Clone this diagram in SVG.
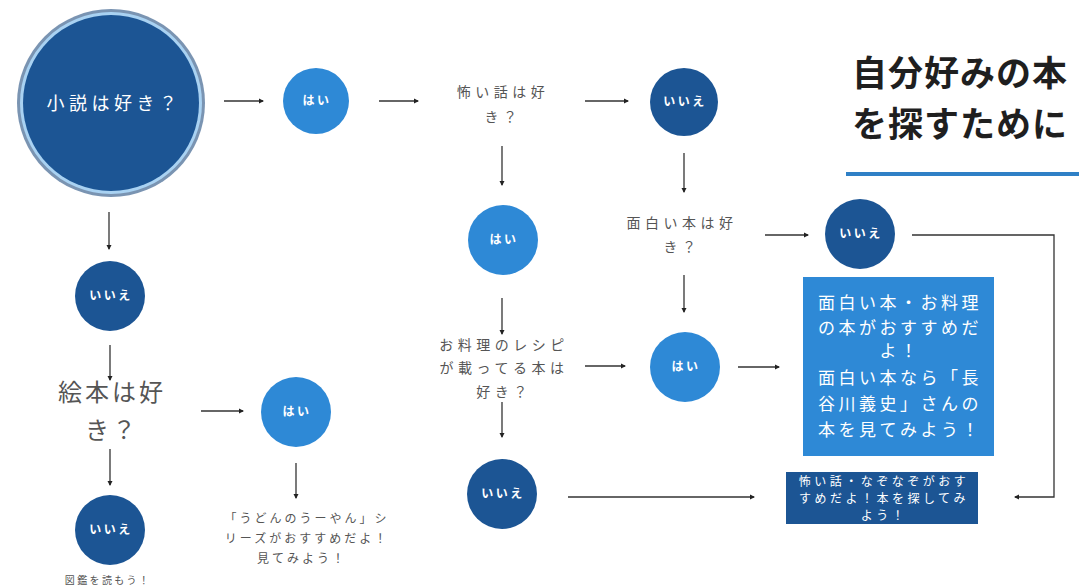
<svg xmlns="http://www.w3.org/2000/svg" width="1079" height="585" viewBox="0 0 1079 585">
<defs>
<style>
text{font-family:"Noto Sans CJK JP","Noto Sans",sans-serif;text-anchor:middle;}
.dark{fill:#1c5594;}
.mid{fill:#2e89d6;}
.lbl{fill:#ffffff;font-size:12px;letter-spacing:2.5px;font-weight:bold;}
.q{fill:#555555;font-size:14px;letter-spacing:4.5px;}
.ca{stroke:#333333;stroke-width:1.3;fill:none;marker-end:url(#ah);}
.box{fill:#ffffff;font-size:17px;letter-spacing:3.5px;}
.box2{fill:#ffffff;font-size:12px;letter-spacing:3.5px;}
.udon{fill:#555555;font-size:12px;letter-spacing:3px;}
.ttl{text-anchor:start;font-size:35px;font-weight:bold;fill:#1f1f1f;letter-spacing:1px;}
</style>
<marker id="ah" markerWidth="6" markerHeight="6" refX="4" refY="3" orient="auto" markerUnits="userSpaceOnUse">
<path d="M0,0.5 L5,3 L0,5.5 z" fill="#222222"/>
</marker>
</defs>
<rect width="1079" height="585" fill="#ffffff"/>

<g id="title">
<text x="852" y="86" class="ttl">自分好みの本</text>
<text x="852" y="137" class="ttl">を探すために</text>
<line x1="846" y1="174" x2="1079" y2="174" stroke="#2f80c6" stroke-width="4"/>
</g>

<g id="q-novel">
<circle cx="111" cy="103" r="94" fill="#7a94b2"/>
<circle cx="111" cy="103" r="91" fill="#a9d2f2"/>
<circle cx="111" cy="103" r="88" class="dark"/>
<text x="114" y="110" style="fill:#ffffff;font-size:18px;letter-spacing:4.5px">小説は好き？</text>
</g>

<g id="yes1"><circle cx="316" cy="101" r="33" class="mid"/><text x="317" y="105" class="lbl">はい</text></g>
<g id="q-scary"><text x="503" y="97" class="q">怖い話は好</text><text x="503" y="122" class="q">き？</text></g>
<g id="no1"><circle cx="684" cy="102" r="34" class="dark"/><text x="685" y="106" class="lbl">いいえ</text></g>
<g id="q-funny"><text x="682" y="228" class="q">面白い本は好</text><text x="682" y="252" class="q">き？</text></g>
<g id="no2"><circle cx="860" cy="234" r="35" class="dark"/><text x="861" y="238" class="lbl">いいえ</text></g>
<g id="yes3"><circle cx="685" cy="367" r="35" class="mid"/><text x="686" y="371" class="lbl">はい</text></g>
<g id="yes2"><circle cx="503" cy="240" r="35" class="mid"/><text x="504" y="244" class="lbl">はい</text></g>
<g id="q-cook"><text x="504" y="350" class="q">お料理のレシピ</text><text x="504" y="373" class="q">が載ってる本は</text><text x="504" y="397" class="q">好き？</text></g>
<g id="no3"><circle cx="502" cy="494" r="35" class="dark"/><text x="503" y="498" class="lbl">いいえ</text></g>

<g id="rec-funny">
<rect x="803" y="277" width="191" height="179" class="mid"/>
<text x="900" y="309" class="box">面白い本・お料理</text>
<text x="900" y="334" class="box">の本がおすすめだ</text>
<text x="900" y="357" class="box">よ！</text>
<text x="900" y="384" class="box">面白い本なら「長</text>
<text x="900" y="410" class="box">谷川義史」さんの</text>
<text x="900" y="436" class="box">本を見てみよう！</text>
</g>
<g id="rec-scary">
<rect x="786" y="472" width="192" height="52" class="dark"/>
<text x="884" y="486" class="box2">怖い話・なぞなぞがおす</text>
<text x="884" y="503" class="box2">すめだよ！本を探してみ</text>
<text x="884" y="520" class="box2">よう！</text>
</g>

<g id="no0"><circle cx="110" cy="296" r="35" class="dark"/><text x="111" y="300" class="lbl">いいえ</text></g>
<g id="q-picture"><text x="112" y="401" style="fill:#555555;font-size:24px;letter-spacing:3px">絵本は好</text><text x="112" y="439" style="fill:#555555;font-size:24px;letter-spacing:3px">き？</text></g>
<g id="yes4"><circle cx="296" cy="412" r="35" class="mid"/><text x="297" y="416" class="lbl">はい</text></g>
<g id="rec-udon"><text x="307" y="523" class="udon">「うどんのうーやん」シ</text><text x="307" y="543" class="udon">リーズがおすすめだよ！</text><text x="302" y="563" class="udon">見てみよう！</text></g>
<g id="no4"><circle cx="110" cy="530" r="35" class="dark"/><text x="111" y="534" class="lbl">いいえ</text></g>
<g id="rec-zukan"><text x="108" y="584" style="fill:#555555;font-size:10px;letter-spacing:2.4px">図鑑を読もう！</text></g>

<g id="connectors">
<line x1="224" y1="101" x2="263" y2="101" class="ca"/>
<line x1="379" y1="101" x2="418" y2="101" class="ca"/>
<line x1="585" y1="101" x2="628" y2="101" class="ca"/>
<line x1="684" y1="153" x2="684" y2="192" class="ca"/>
<line x1="765" y1="235" x2="808" y2="235" class="ca"/>
<line x1="684" y1="275" x2="684" y2="312" class="ca"/>
<line x1="738" y1="367" x2="779" y2="367" class="ca"/>
<line x1="502" y1="146" x2="502" y2="185" class="ca"/>
<line x1="502" y1="298" x2="502" y2="334" class="ca"/>
<line x1="585" y1="366" x2="625" y2="366" class="ca"/>
<line x1="502" y1="402" x2="502" y2="437" class="ca"/>
<line x1="568" y1="497" x2="754" y2="497" class="ca"/>
<polyline points="912,235 1054,235 1054,497 1015,497" class="ca"/>
<line x1="109" y1="212" x2="109" y2="249" class="ca"/>
<line x1="110" y1="345" x2="110" y2="380" class="ca"/>
<line x1="201" y1="411" x2="243" y2="411" class="ca"/>
<line x1="296" y1="463" x2="296" y2="498" class="ca"/>
<line x1="110" y1="449" x2="110" y2="485" class="ca"/>
</g>
</svg>
